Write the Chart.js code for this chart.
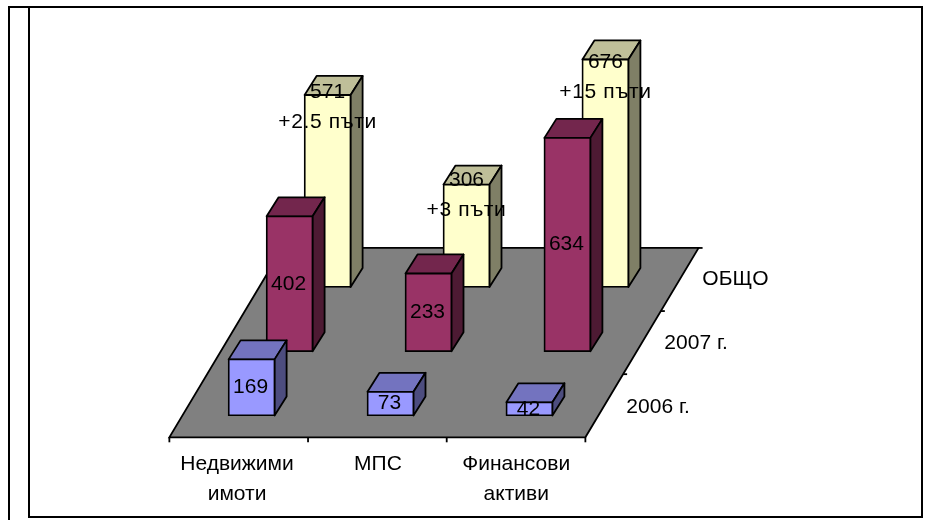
<!DOCTYPE html>
<html lang="bg">
<head>
<meta charset="UTF-8">
<title>Недвижими имоти, МПС, Финансови активи</title>
<script src="https://cdn.jsdelivr.net/npm/chart.js"></script>
<style>
html,body{margin:0;padding:0;background:#fff;}
#wrap{position:relative;width:928px;height:520px;}
</style>
</head>
<body>
<div id="wrap"><canvas id="chart" width="928" height="520"></canvas></div>
<script>
/* data */
const categories=[["Недвижими","имоти"],["МПС"],["Финансови","активи"]];
const rowNames=["2006 г.","2007 г.","ОБЩО"];
const values2006=[169,73,42];
const values2007=[402,233,634];
const valuesTotal=[571,306,676];
const totalNotes=["+2.5 пъти","+3 пъти","+15 пъти"];

/* colours: front, top, side */
const rowColors=[
    ["#9999ff","#7373bf","#4d4d7f"],
    ["#993366","#73264d","#4d1a33"],
    ["#ffffcc","#bfbf99","#7f7f66"]
];

/* fake 3d layout: rows sit further back, in axis units */
const ROW_SHIFT=0.2736;         // x units per row
const ROW_LIFT=190;             // y units per row
const DEPTH_X=12,DEPTH_Y=19;    // box depth in px
const FLOOR_LEFT=-0.592,FLOOR_RIGHT=2.403,FLOOR_SKEW=0.815;
const FLOOR_FRONT=-63,FLOOR_BACK=497;
const LABEL_TICKS=[-0.105,0.91,1.905];
const NOTE_NUDGE=[-2,-4,3];     // total labels sit around the bar top
const LINE_W=1.8;
const FONT='21px "Liberation Sans", Arial, sans-serif';

function rowData(values,row){
    return values.map((v,i)=>({
        x:i+row*ROW_SHIFT,
        y:[row*ROW_LIFT,row*ROW_LIFT+v]
    }));
}
function poly(ctx,pts,fill){
    ctx.beginPath();
    pts.forEach((p,i)=>i?ctx.lineTo(p[0],p[1]):ctx.moveTo(p[0],p[1]));
    ctx.closePath();
    if(fill){ctx.fillStyle=fill;ctx.fill();}
    ctx.stroke();
}
function line(ctx,x1,y1,x2,y2){
    ctx.beginPath();ctx.moveTo(x1,y1);ctx.lineTo(x2,y2);ctx.stroke();
}

const boxPlugin={
    id:"box3d",
    beforeDraw(chart){
        /* frame around the pasted picture */
        const c=chart.ctx;
        c.save();
        c.strokeStyle="#000";c.lineWidth=2;
        c.strokeRect(29,7,893,510);
        line(c,9,6,9,520);
        line(c,8,7,29,7);
        c.restore();
    },
    beforeDatasetsDraw(chart){
        /* floor and its axis lines */
        const c=chart.ctx,xs=chart.scales.x,ys=chart.scales.y;
        const fl=xs.getPixelForValue(FLOOR_LEFT),fr=xs.getPixelForValue(FLOOR_RIGHT);
        const bl=xs.getPixelForValue(FLOOR_LEFT+FLOOR_SKEW),br=xs.getPixelForValue(FLOOR_RIGHT+FLOOR_SKEW);
        const yf=ys.getPixelForValue(FLOOR_FRONT),yb=ys.getPixelForValue(FLOOR_BACK);
        c.save();
        c.strokeStyle="#000";c.lineWidth=LINE_W;
        poly(c,[[fl,yf],[fr,yf],[br,yb],[bl,yb]],"#808080");
        categories.concat([[]]).forEach((_,i)=>{
            const x=fl+(fr-fl)*i/categories.length;
            line(c,x,yf,x,yf+5);
        });
        rowNames.forEach((_,i)=>{
            const t=(i+1)/rowNames.length;
            const x=fr+(br-fr)*t,y=yf+(yb-yf)*t;
            line(c,x,y,x+4,y);
        });
        c.restore();
    },
    beforeDatasetDraw(chart,args){
        /* top and side of each box, the front is the bar itself */
        const c=chart.ctx,cols=rowColors[args.index];
        c.save();
        c.strokeStyle="#000";c.lineWidth=LINE_W;c.lineJoin="round";
        args.meta.data.forEach(b=>{
            const l=b.x-b.width/2+.5,r=b.x+b.width/2-.5,t=b.y+.5,bt=b.base-.5;
            poly(c,[[l,t],[r,t],[r+DEPTH_X,t-DEPTH_Y],[l+DEPTH_X,t-DEPTH_Y]],cols[1]);
            poly(c,[[r,t],[r+DEPTH_X,t-DEPTH_Y],[r+DEPTH_X,bt-DEPTH_Y],[r,bt]],cols[2]);
        });
        c.restore();
    },
    afterDatasetsDraw(chart){
        const c=chart.ctx,xs=chart.scales.x,ys=chart.scales.y;
        c.save();
        c.font=FONT;c.fillStyle="#000";c.textAlign="center";c.textBaseline="middle";
        [values2006,values2007].forEach((vals,row)=>{
            chart.getDatasetMeta(row).data.forEach((b,i)=>{
                c.fillText(vals[i],b.x-1,(b.y+b.base)/2);
            });
        });
        chart.getDatasetMeta(2).data.forEach((b,i)=>{
            const y=b.y+NOTE_NUDGE[i];
            c.fillText(valuesTotal[i],b.x,y);
            c.letterSpacing="0.6px";
            c.fillText(totalNotes[i],b.x,y+30);
            c.letterSpacing="0px";
        });
        /* row names to the right of the floor */
        c.textAlign="left";
        rowNames.forEach((name,row)=>{
            c.fillText(name,xs.getPixelForValue(2.698+row*ROW_SHIFT),ys.getPixelForValue(row*ROW_LIFT+26));
        });
        c.restore();
    }
};

function rowSet(label,values,row){
    return {
        label,
        data:rowData(values,row),
        backgroundColor:rowColors[row][0],
        borderColor:"#000",
        borderWidth:LINE_W,
        borderSkipped:false,
        barThickness:47,
        grouped:false
    };
}

new Chart(document.getElementById("chart"),{
    type:"bar",
    data:{datasets:[
        rowSet(rowNames[0],values2006,0),
        rowSet(rowNames[1],values2007,1),
        rowSet(rowNames[2],valuesTotal,2)
    ]},
    options:{
        responsive:false,
        animation:false,
        layout:{padding:{top:16,left:0,right:0,bottom:0}},
        plugins:{legend:{display:false},title:{display:false},tooltip:{enabled:false}},
        scales:{
            x:{
                type:"linear",
                offset:false,
                min:-1.8114,max:4.8697,
                grid:{display:false,drawTicks:false},
                border:{display:false},
                afterBuildTicks(axis){axis.ticks=LABEL_TICKS.map(v=>({value:v}));},
                afterFit(axis){axis.height=104;},
                ticks:{
                    autoSkip:false,maxRotation:0,minRotation:0,includeBounds:false,
                    padding:33,color:"#000",
                    font:{family:'"Liberation Sans"',size:21,lineHeight:1.45},
                    callback:(v,i)=>categories[i]
                }
            },
            y:{display:false,min:0,max:1183}
        }
    },
    plugins:[boxPlugin]
});
</script>
</body>
</html>
